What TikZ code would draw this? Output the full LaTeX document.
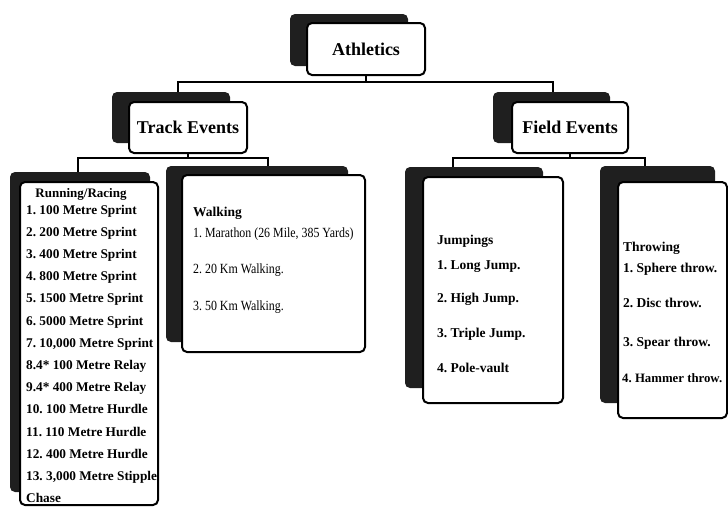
\documentclass[tikz,border=0pt]{standalone}
\usepackage{fontspec}
\setmainfont{Liberation Serif}
\newfontfamily\condserif[FakeStretch=0.85]{Liberation Serif}
\frenchspacing
\begin{document}
\begin{tikzpicture}[x=1pt,y=-1pt,
  shadowbox/.style={fill=black!88, rounded corners=5pt, inner sep=0pt, minimum width=#1},
  frontbox/.style={draw=black, line width=2pt, fill=white, rounded corners=5pt, inner sep=0pt},
  conn/.style={line width=2pt, black},
  headtext/.style={font=\bfseries\fontsize{18}{20}\selectfont},
  runitem/.style={anchor=base west, inner sep=0pt, font=\bfseries\fontsize{13.3}{15}\selectfont},
  walkitem/.style={anchor=base west, inner sep=0pt, font=\condserif\fontsize{14}{16}\selectfont},
  fielditem/.style={anchor=base west, inner sep=0pt, font=\bfseries\fontsize{13.5}{15}\selectfont},
  subtitle/.style={anchor=base west, inner sep=0pt, font=\bfseries\fontsize{13.5}{15}\selectfont}]
\useasboundingbox (0,0) rectangle (728,507);

% shadows
\node[shadowbox=118pt, minimum height=52pt] (athS) at (349,40) {};
\node[shadowbox=118pt, minimum height=51pt] (trackS) at (171,117.5) {};
\node[shadowbox=117pt, minimum height=51pt] (fieldS) at (551.5,117.5) {};
\node[shadowbox=140pt, minimum height=320pt] (runS) at (80,332) {};
\node[shadowbox=182pt, minimum height=176pt] (walkS) at (257,254) {};
\node[shadowbox=138pt, minimum height=221pt] (jumpS) at (474,277.5) {};
\node[shadowbox=115pt, minimum height=237pt] (throwS) at (657.5,284.5) {};

% front boxes
\node[frontbox, minimum width=118pt, minimum height=52pt, headtext] (ath) at (366,49) {Athletics};
\node[frontbox, minimum width=118pt, minimum height=51pt, headtext] (track) at (188,127.5) {Track Events};
\node[frontbox, minimum width=116pt, minimum height=51pt, headtext] (field) at (570,127.5) {Field Events};
\node[frontbox, minimum width=138pt, minimum height=323pt] (run) at (89,343.5) {};
\node[frontbox, minimum width=183pt, minimum height=177pt] (walk) at (273.5,263.5) {};
\node[frontbox, minimum width=140pt, minimum height=226pt] (jump) at (493,290) {};
\node[frontbox, minimum width=109pt, minimum height=236pt] (throw) at (672.5,300) {};

% connectors
\coordinate (h1L) at (178,82);
\coordinate (h1R) at (553,82);
\coordinate (h2L) at (78,158);
\coordinate (h2R) at (268,158);
\coordinate (h3L) at (453,158);
\coordinate (h3R) at (645,158);
\draw[conn] (ath.south) -- (ath.south |- h1L);
\draw[conn] (h1L |- trackS.north) -- (h1L) -- (h1R) -- (h1R |- fieldS.north);
\draw[conn] (track.south) -- (track.south |- h2L);
\draw[conn] (h2L |- runS.north) -- (h2L) -- (h2R) -- (h2R |- walkS.north);
\draw[conn] (field.south) -- (field.south |- h3L);
\draw[conn] (h3L |- jumpS.north) -- (h3L) -- (h3R) -- (h3R |- throwS.north);

% Running / Racing
\node[anchor=base, inner sep=0pt, font=\bfseries\fontsize{13}{14}\selectfont] (runT) at (81,197) {Running/Racing};
\foreach \t [count=\i from 0] in {1. 100 Metre Sprint, 2. 200 Metre Sprint, 3. 400 Metre Sprint,
  4. 800 Metre Sprint, 5. 1500 Metre Sprint, 6. 5000 Metre Sprint, {7. 10,000 Metre Sprint},
  8.4* 100 Metre Relay, 9.4* 400 Metre Relay, 10. 100 Metre Hurdle, 11. 110 Metre Hurdle,
  12. 400 Metre Hurdle, {13. 3,000 Metre Stipple}, Chase}
  \node[runitem] (run\i) at (26,{214+22.2*\i}) {\t};

% Walking
\node[subtitle] (walkT) at (193,216.5) {Walking};
\node[walkitem] (walk1) at (193,237) {1. Marathon (26 Mile, 385 Yards)};
\node[walkitem] (walk2) at (193,273) {2. 20 Km Walking.};
\node[walkitem] (walk3) at (193,310) {3. 50 Km Walking.};

% Jumpings
\node[subtitle] (jumpT) at (437,244.5) {Jumpings};
\node[fielditem] (jump1) at (437,269.5) {1. Long Jump.};
\node[fielditem] (jump2) at (437,302.5) {2. High Jump.};
\node[fielditem] (jump3) at (437,337.5) {3. Triple Jump.};
\node[fielditem] (jump4) at (437,372.5) {4. Pole-vault};

% Throwing
\node[subtitle] (throwT) at (623,251.5) {Throwing};
\node[fielditem] (throw1) at (623,272.5) {1. Sphere throw.};
\node[fielditem] (throw2) at (623,307.5) {2. Disc throw.};
\node[fielditem] (throw3) at (623,346.5) {3. Spear throw.};
\node[fielditem, font=\bfseries\fontsize{12.8}{15}\selectfont] (throw4) at (622,382.5) {4. Hammer throw.};
\end{tikzpicture}
\end{document}
